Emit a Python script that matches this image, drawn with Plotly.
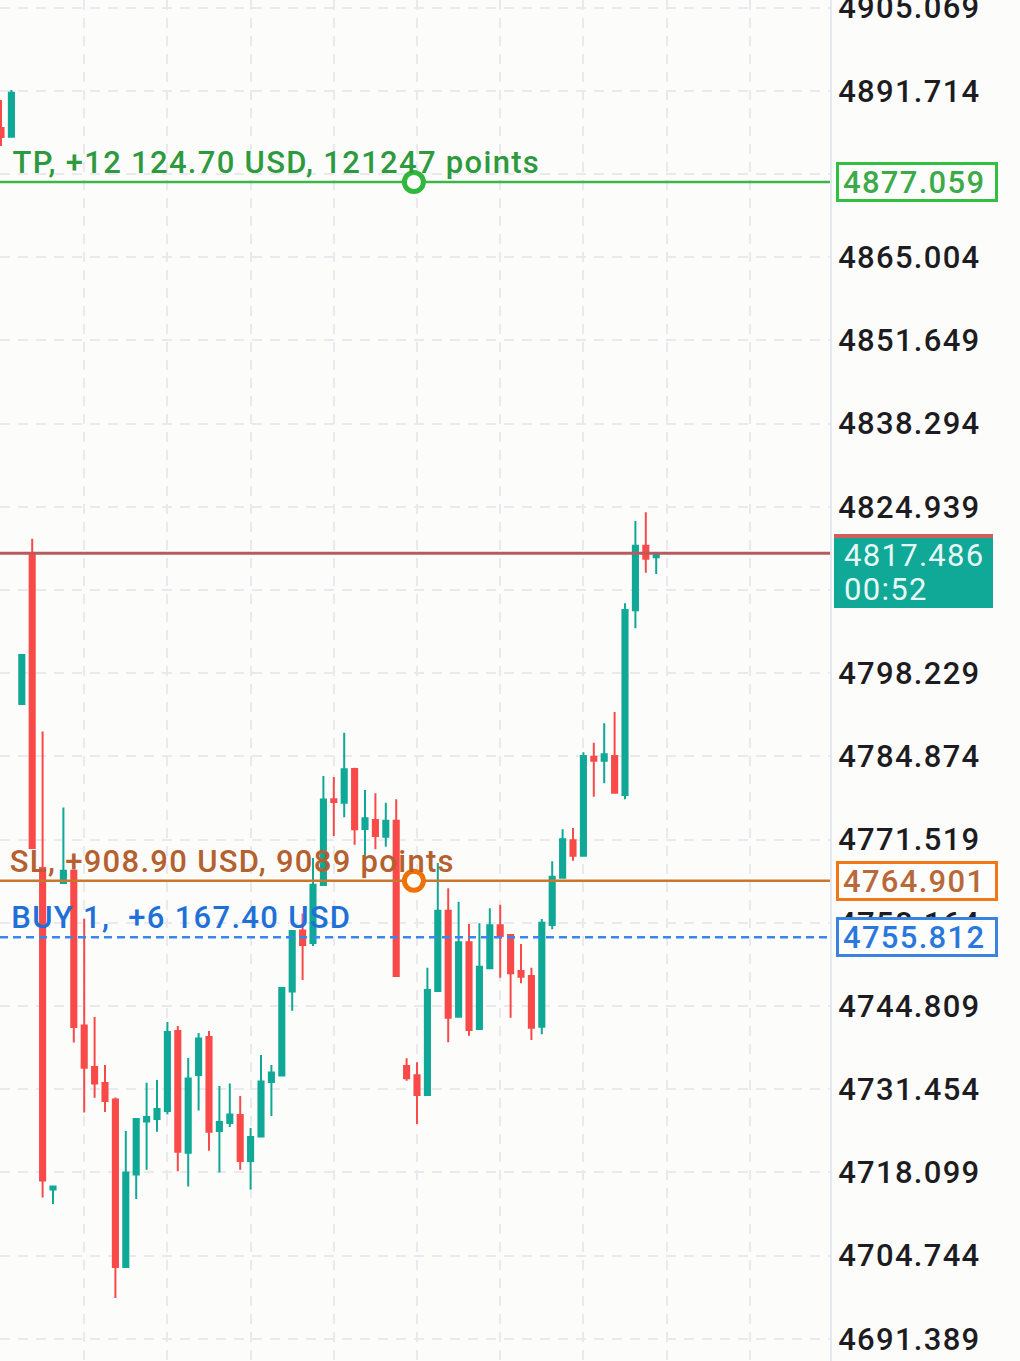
# MT5 style candlestick screenshot, rebuilt with plotly
import plotly.graph_objects as go

# ── candle data ──────────────────────────────────────────────
opens = [4885.73, 4884.33, 4793.27, 4817.18, 4766.94, 4715.34, 4764.54, 4766.49,
         4741.68, 4735.00, 4732.43, 4729.80, 4702.90, 4717.75, 4726.25, 4726.65,
         4727.94, 4740.78, 4721.24, 4733.73, 4739.82, 4724.73, 4726.01, 4727.30,
         4719.91, 4723.85, 4732.59, 4733.62, 4747.14, 4756.91, 4754.91, 4764.22,
         4777.97, 4777.42, 4782.83, 4773.20, 4774.65, 4771.97, 4774.54, 4735.16,
         4733.67, 4730.51, 4747.20, 4760.09, 4743.08, 4755.02, 4741.10, 4750.84,
         4757.75, 4756.19, 4750.41, 4749.61, 4741.47, 4757.79, 4765.39, 4771.39,
         4768.92, 4784.81, 4784.17, 4784.92, 4778.66, 4808.31, 4818.68, 4816.82]
highs = [4890.22, 4891.83, 4801.13, 4819.80, 4788.84, 4715.83, 4776.64, 4766.49,
         4758.81, 4743.03, 4735.32, 4730.12, 4724.73, 4726.65, 4732.47, 4732.91,
         4742.22, 4741.58, 4736.45, 4740.46, 4740.78, 4731.95, 4732.35, 4730.35,
         4725.21, 4736.93, 4735.32, 4747.70, 4756.83, 4759.64, 4768.55, 4781.71,
         4781.55, 4788.66, 4783.04, 4779.46, 4778.93, 4777.42, 4777.97, 4736.40,
         4735.75, 4750.94, 4767.75, 4763.69, 4761.53, 4757.96, 4758.07, 4760.48,
         4761.05, 4756.35, 4754.74, 4750.94, 4758.76, 4768.02, 4773.16, 4773.36,
         4785.52, 4787.06, 4790.17, 4791.98, 4809.43, 4822.64, 4824.04, 4817.55]
lows = [4882.84, 4884.33, 4793.27, 4770.15, 4714.07, 4713.01, 4764.54, 4738.95,
        4727.71, 4730.06, 4727.78, 4697.94, 4702.90, 4713.81, 4718.50, 4724.60,
        4727.39, 4718.26, 4715.83, 4728.03, 4721.55, 4718.07, 4725.37, 4718.50,
        4715.34, 4723.85, 4727.14, 4733.62, 4744.02, 4748.97, 4754.42, 4764.22,
        4772.08, 4775.08, 4770.68, 4768.76, 4769.95, 4770.36, 4749.61, 4732.80,
        4725.85, 4730.51, 4747.20, 4738.97, 4743.08, 4740.03, 4740.94, 4750.68,
        4749.34, 4742.92, 4748.44, 4739.34, 4740.25, 4757.10, 4765.39, 4768.12,
        4768.92, 4778.39, 4780.54, 4779.03, 4777.97, 4805.42, 4814.34, 4814.13]
closes = [4884.28, 4891.39, 4801.13, 4770.15, 4716.80, 4715.83, 4766.49, 4741.42,
          4734.89, 4732.35, 4729.54, 4702.90, 4718.07, 4726.65, 4726.98, 4728.26,
          4740.62, 4721.42, 4733.17, 4739.58, 4724.60, 4726.17, 4727.39, 4719.91,
          4723.77, 4732.66, 4734.12, 4747.70, 4756.83, 4754.58, 4764.27, 4777.94,
          4777.54, 4782.79, 4773.16, 4774.92, 4772.08, 4774.54, 4749.61, 4733.19,
          4730.51, 4747.36, 4760.09, 4742.92, 4755.02, 4740.94, 4751.10, 4757.75,
          4756.03, 4750.04, 4749.50, 4741.31, 4758.16, 4765.55, 4771.55, 4768.92,
          4784.92, 4784.17, 4785.19, 4779.03, 4808.36, 4818.68, 4816.59, 4817.30]
bar_index = list(range(len(opens)))

# ── axis ticks ───────────────────────────────────────────────
y_ticks = [4905.069, 4891.714, 4878.359, 4865.004, 4851.649, 4838.294, 4824.939, 4811.584,
           4798.229, 4784.874, 4771.519, 4758.164, 4744.809, 4731.454, 4718.099, 4704.744, 4691.389]
y_labels = ["4905.069", "4891.714", "", "4865.004", "4851.649", "4838.294", "4824.939", "",
            "4798.229", "4784.874", "4771.519", "4758.164", "4744.809", "4731.454", "4718.099",
            "4704.744", "4691.389"]
x_ticks = [0, 8, 16, 24, 32, 40, 48, 56, 64, 72]

# ── order levels ─────────────────────────────────────────────
tp_price = 4877.059
sl_price = 4764.901
buy_price = 4755.812
last_price = 4817.486
countdown = "00:52"
handle_x = [39.7, 39.7]
handle_y = [tp_price, sl_price]

TEAL = "#10a897"
RED = "#f94a4a"
GREEN_LINE = "#3cb54a"
ORANGE_LINE = "#c9772f"
BLUE_LINE = "#3a86ee"
GRID = "#e9e9ee"
FONT = "Roboto"
WEIGHT = 500
W, H = 1020, 1361
AXIS_X = 830 / W
X_RANGE = [-0.096, 79.71]

fig = go.Figure()

fig.add_trace(go.Candlestick(
    x=bar_index, open=opens, high=highs, low=lows, close=closes,
    increasing=dict(line=dict(color=TEAL, width=2), fillcolor=TEAL),
    decreasing=dict(line=dict(color=RED, width=2), fillcolor=RED),
    whiskerwidth=0, showlegend=False, hoverinfo="skip",
))

# level lines, as traces so the handles can sit on top of them
for price, color, width, dash in [(tp_price, GREEN_LINE, 2.5, "solid"),
                                  (last_price, "#b95a5e", 3, "solid"),
                                  (sl_price, ORANGE_LINE, 2.5, "solid"),
                                  (buy_price, BLUE_LINE, 2.5, "8px,5px")]:
    fig.add_trace(go.Scatter(x=X_RANGE, y=[price, price], mode="lines", showlegend=False,
                             hoverinfo="skip", line=dict(color=color, width=width, dash=dash)))

# drag handles on TP and SL
fig.add_trace(go.Scatter(
    x=handle_x, y=handle_y, mode="markers", showlegend=False, hoverinfo="skip",
    marker=dict(size=19, color="white", line=dict(width=5, color=["#2fb83c", "#f07000"])),
))

# line captions
for text, price, color, shift, centre in [("TP, +12 124.70 USD, 121247 points", tp_price, "#2e9a3e", 20, 276),
                                          ("SL, +908.90 USD, 9089 points", sl_price, "#b5602f", 19, 232.5),
                                          ("BUY 1,  +6 167.40 USD", buy_price, "#2070d8", 20, 181.5)]:
    fig.add_annotation(xref="paper", yref="y", x=centre / W, y=price, yshift=shift, text=text,
                       showarrow=False, xanchor="center", yanchor="middle",
                       font=dict(family=FONT, size=31, color=color, weight=WEIGHT))

# boxed prices on the axis
for price, text_color, border in [(tp_price, "#3caa48", "#32c040"),
                                  (sl_price, "#b8693a", "#f07818"),
                                  (buy_price, "#2a78de", "#3a84e0")]:
    fig.add_annotation(xref="paper", yref="y", x=836 / W, y=price, text=f"{price:.3f}",
                       showarrow=False, xanchor="left", yanchor="middle", align="left",
                       width=148, height=26, bgcolor="#fdfdfc", bordercolor=border,
                       borderwidth=3, borderpad=4,
                       font=dict(family=FONT, size=31, color=text_color, weight=WEIGHT))

# current price box with countdown
fig.add_shape(type="rect", xref="paper", yref="paper", x0=834 / W, x1=993 / W,
              y0=1 - 608 / H, y1=1 - 538 / H, fillcolor=TEAL, line=dict(width=0))
fig.add_shape(type="rect", xref="paper", yref="paper", x0=834 / W, x1=993 / W,
              y0=1 - 538 / H, y1=1 - 534 / H, fillcolor="#d0605c", line=dict(width=0))
for text, y_px in [(f"{last_price:.3f}", 555), (countdown, 590)]:
    fig.add_annotation(xref="paper", yref="paper", x=843 / W, y=1 - y_px / H, text=text,
                       showarrow=False, xanchor="left", yanchor="middle", align="left",
                       borderpad=0, font=dict(family=FONT, size=31, color="#e6f7f4"))

fig.update_layout(
    width=W, height=H, margin=dict(l=0, r=0, t=0, b=0, autoexpand=False),
    paper_bgcolor="#fcfcfb", plot_bgcolor="#fcfcfb", showlegend=False,
    font=dict(family=FONT),
)
fig.update_xaxes(domain=[0, AXIS_X], range=X_RANGE, rangeslider_visible=False,
                 tickvals=x_ticks, showticklabels=False, ticks="", zeroline=False,
                 showgrid=True, gridcolor=GRID, gridwidth=1.5, griddash="10px,8px")
fig.update_yaxes(side="right", range=[4687.813, 4906.273], tickvals=y_ticks, ticktext=y_labels,
                 ticks="", ticklabelstandoff=0, ticklabeloverflow="allow", zeroline=False,
                 tickfont=dict(family=FONT, size=31, color="#1c1c22", weight=WEIGHT),
                 showline=True, linecolor="#e6e8f0", linewidth=2,
                 showgrid=True, gridcolor=GRID, gridwidth=1.5, griddash="10px,8px")

# the screenshot is stretched sideways, so open up the text a little
post = """
document.body.style.margin = '0';
document.querySelectorAll('.ytick text, .annotation-text').forEach(function (t) {
    t.style.letterSpacing = '1.3px';
});
"""
fig.write_html("out.html", post_script=post, config=dict(displayModeBar=False))
